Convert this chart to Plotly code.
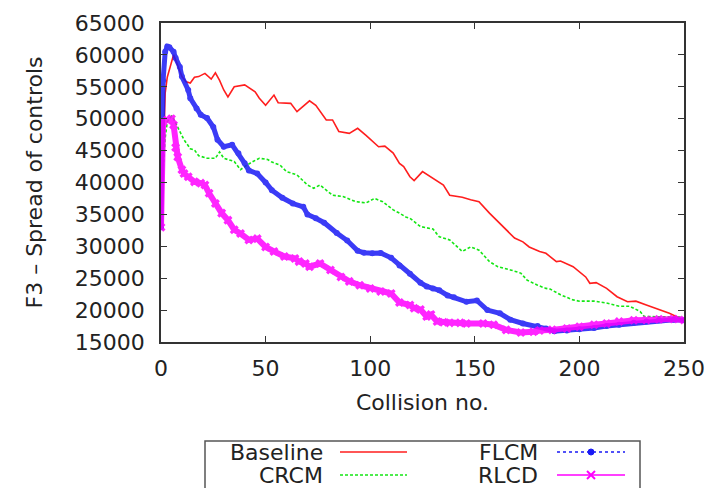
import plotly.graph_objects as go

# ---------------- data ----------------
base_x = [0, 1, 2, 3, 5, 6, 7, 9, 10, 12, 14, 16, 18, 21, 24, 26, 28, 30, 32, 35, 40, 45, 47, 50, 54, 56,
          62, 65, 68, 71, 74, 76, 79, 82, 85, 90, 94, 98, 104, 107, 111, 114, 116, 119, 121, 125, 130, 135,
          138, 144, 148, 152, 157, 162, 169, 173, 176, 181, 184, 189, 191, 197, 203, 205, 208, 213, 218,
          223, 227, 232, 238, 243, 247, 250]
base_y = [33000, 45000, 54000, 56500, 59000, 60000, 59200, 57600, 56600, 55800, 55600, 56500, 56600, 57100,
          56200, 57200, 56000, 54500, 53400, 55000, 55300, 54200, 53200, 52100, 53700, 52500,
          52400, 51100, 51900, 52800, 52100, 51100, 49800, 49800, 48000, 47700, 48500, 47400, 45600, 45700,
          44600, 43000, 42500, 40900, 40300, 41700, 40600, 39600, 38000, 37700, 37300, 37000, 35200, 33600,
          31300, 30700, 29900, 29200, 28900, 27600, 27700, 26800, 25200, 24200, 24300, 23400, 22100,
          21300, 21400, 20800, 20100, 19500, 18900, 18300]

crcm_x = [0, 1, 2, 3, 5, 6, 9, 11, 14, 16, 18, 22, 26, 28, 30, 35, 38, 40, 44, 47, 51, 53, 57, 60, 65, 70,
          73, 76, 79, 82, 87, 93, 98, 102, 106, 111, 114, 117, 119, 124, 130, 133, 138, 144, 148, 152, 157,
          161, 167, 172, 175, 180, 184, 186, 191, 197, 200, 207, 213, 219, 224, 229, 231, 237, 243, 248, 250]
crcm_y = [33000, 42000, 47000, 49500, 50400, 50000, 48000, 46700, 45300, 45100, 44200, 43800, 43800, 44800,
          43800, 43300, 42000, 42500, 43300, 43800, 43600, 43200, 42700, 41700, 41200, 39600, 39100, 39600,
          38800, 38000, 37800, 37000, 36800, 37500, 37000, 35700, 35200, 34600, 34400, 33100, 32700, 31500,
          31000, 29200, 29900, 29400, 27600, 26800, 26300, 25800, 24700, 23900, 23400, 23300, 22400, 21600,
          21400, 21400, 21100, 20600, 20600, 19800, 19000, 19000, 19000, 18900, 18500]

flcm_x = [0, 1, 2, 3, 4, 6, 7, 9, 10, 13, 14, 17, 19, 22, 25, 27, 30, 34, 37, 40, 42, 46, 50, 53, 58, 63,
          68, 70, 74, 78, 84, 89, 94, 97, 101, 105, 110, 114, 119, 124, 127, 130, 133, 137, 140, 146, 151,
          156, 162, 167, 173, 180, 184, 188, 194, 200, 207, 213, 219, 226, 232, 238, 245, 250]
flcm_y = [33000, 56000, 60500, 61300, 61200, 60500, 59500, 58100, 56600, 54500, 53200, 51600, 50600, 50100,
          48700, 46700, 45600, 45900, 44600, 43000, 41900, 41400, 40000, 38800, 37600, 36700, 36200, 35000,
          34400, 33700, 32100, 30900, 29300, 29000, 28900, 28950, 28200, 27000, 25700, 24300, 23700, 23400,
          23100, 22300, 22000, 21300, 21500, 20000, 19500, 18500, 17900, 17500, 17100, 16700, 16800, 17000,
          17200, 17500, 17700, 18000, 18200, 18400, 18500, 18400]

rlcd_x = [0, 1, 3, 5, 6, 7, 8, 10, 11, 13, 16, 19, 21, 23, 26, 29, 32, 35, 38, 42, 46, 50, 54, 59, 64, 66,
          69, 71, 76, 81, 86, 90, 95, 100, 105, 110, 114, 119, 121, 124, 127, 129, 132, 135, 138, 143, 146,
          154, 159, 165, 172, 178, 181, 187, 194, 200, 207, 213, 219, 226, 232, 238, 245, 250]
rlcd_y = [33000, 49500, 49800, 50000, 49000, 45500, 44000, 42000, 41400, 40900, 40100, 39900, 39600, 38300,
          36700, 35200, 34100, 32600, 32000, 31000, 31200, 29900, 29200, 28400, 28100, 27600, 27300, 26800,
          27300, 26300, 25200, 24500, 23900, 23400, 22900, 22600, 21200, 20800, 20300, 20100, 19000, 19300,
          18200, 18100, 18000, 18000, 17900, 17900, 17700, 16900, 16500, 16600, 16800, 16900, 17100, 17400,
          17700, 17900, 18200, 18400, 18450, 18550, 18600, 18450]

x_ticks = [0, 50, 100, 150, 200, 250]
y_ticks = [15000, 20000, 25000, 30000, 35000, 40000, 45000, 50000, 55000, 60000, 65000]

# ---------------- styling ----------------
RED = "rgb(255,30,30)"
GREEN = "rgb(20,230,20)"
BLUE = "rgb(25,25,245)"
MAG = "rgb(255,0,255)"
FONT = "DejaVu Sans"
FS = 22
TXT = "#222222"

fig = go.Figure()
fig.add_trace(go.Scatter(x=base_x, y=base_y, mode="lines", name="Baseline",
                         line=dict(color=RED, width=1.6), showlegend=False))
fig.add_trace(go.Scatter(x=crcm_x, y=crcm_y, mode="lines", name="CRCM",
                         line=dict(color=GREEN, width=1.6, dash="3px,2px"), showlegend=False))
fig.add_trace(go.Scatter(x=flcm_x, y=flcm_y, mode="lines+markers", name="FLCM",
                         line=dict(color=BLUE, width=5),
                         marker=dict(symbol="circle", size=6, color=BLUE),
                         opacity=0.85, showlegend=False))
fig.add_trace(go.Scatter(x=rlcd_x, y=rlcd_y, mode="lines+markers", name="RLCD",
                         line=dict(color=MAG, width=6),
                         marker=dict(symbol="x", size=8, color=MAG),
                         opacity=0.85, showlegend=False))

L, R, T, B = 161, 27, 23, 146
W, H = 711, 488
pw, ph = W - L - R, H - T - B


def px(X):
    return (X - L) / pw


def py(Y):
    return (H - B - Y) / ph


axis_common = dict(showgrid=False, zeroline=False, showline=True, linecolor="#333333", linewidth=1.5,
                   mirror="ticks", ticks="inside", ticklen=6, tickcolor="#333333", tickwidth=1,
                   tickfont=dict(family=FONT, size=FS, color=TXT))

fig.update_xaxes(range=[0, 250], tickvals=x_ticks, ticktext=[str(v) for v in x_ticks],
                 title=dict(text="Collision no.", font=dict(family=FONT, size=FS, color=TXT), standoff=14),
                 ticklabelstandoff=6, **axis_common)
fig.update_yaxes(range=[15000, 65000], tickvals=y_ticks, ticktext=[str(v) for v in y_ticks],
                 title=dict(text="F3 – Spread of controls", font=dict(family=FONT, size=FS, color=TXT),
                            standoff=26),
                 ticklabelstandoff=10, **axis_common)

# ---- gnuplot-style key at the bottom (text then sample) ----
shapes = [dict(type="rect", xref="paper", yref="paper", x0=px(205), x1=px(640), y0=py(530), y1=py(441),
               line=dict(color="#555555", width=1.5), fillcolor="rgba(0,0,0,0)")]
entries = [("Baseline", 325, 452, 340, 407, RED, "solid", None),
           ("CRCM", 325, 475, 340, 407, GREEN, "3px,2px", None),
           ("FLCM", 540, 452, 557, 625, BLUE, "dot", "circle"),
           ("RLCD", 540, 475, 557, 625, MAG, "solid", "x")]
annotations = []
for name, tx, ty, s0, s1, col, dash, mk in entries:
    annotations.append(dict(text=name, xref="paper", yref="paper", x=px(tx), y=py(ty), xanchor="right",
                            yanchor="middle", height=20, valign="middle", showarrow=False,
                            font=dict(family=FONT, size=FS, color=TXT)))
    shapes.append(dict(type="line", xref="paper", yref="paper", x0=px(s0), x1=px(s1), y0=py(ty), y1=py(ty),
                       line=dict(color=col, width=1.5, dash=dash)))
    cx = (s0 + s1) / 2
    if mk == "circle":
        shapes.append(dict(type="circle", xref="paper", yref="paper", x0=px(cx - 3), x1=px(cx + 3),
                           y0=py(ty + 3), y1=py(ty - 3), fillcolor=col, line=dict(color=col, width=1)))
    elif mk == "x":
        shapes.append(dict(type="line", xref="paper", yref="paper", x0=px(cx - 4), x1=px(cx + 4),
                           y0=py(ty + 4), y1=py(ty - 4), line=dict(color=col, width=2)))
        shapes.append(dict(type="line", xref="paper", yref="paper", x0=px(cx - 4), x1=px(cx + 4),
                           y0=py(ty - 4), y1=py(ty + 4), line=dict(color=col, width=2)))

fig.update_layout(width=W, height=H, margin=dict(l=L, r=R, t=T, b=B, autoexpand=False),
                  plot_bgcolor="white", paper_bgcolor="white", showlegend=False,
                  shapes=shapes, annotations=annotations)

fig.write_html("out.html", config={"displayModeBar": False},
               post_script="document.body.style.margin='0';document.body.style.overflow='hidden';")
